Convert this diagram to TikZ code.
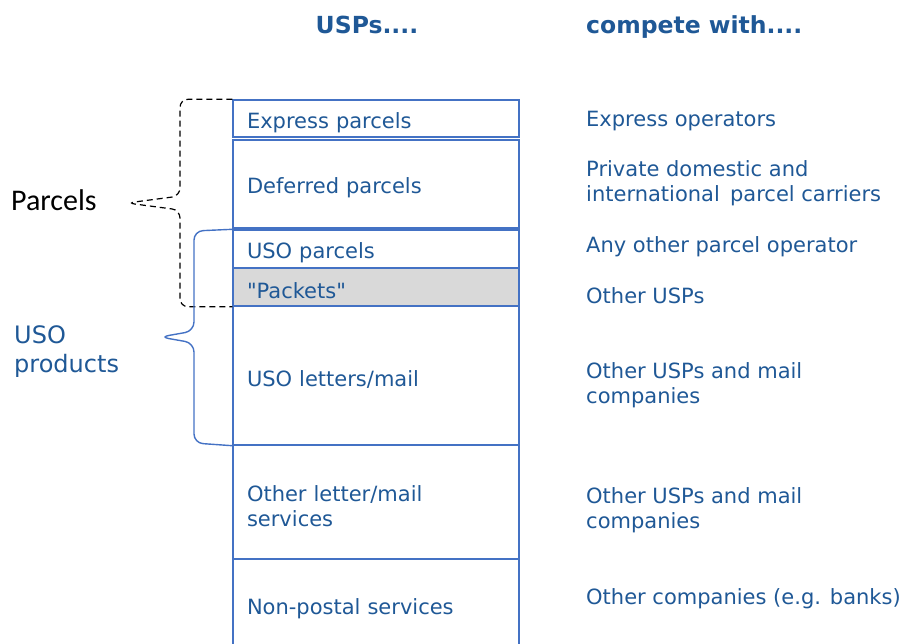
\documentclass[tikz,border=0pt]{standalone}
\usepackage{fontspec}
\setmainfont{DejaVu Sans}
\newfontfamily\carlito{Carlito}
\newfontfamily\plainquote{DejaVu Sans}
\usetikzlibrary{positioning, calc}
\definecolor{textblue}{RGB}{31, 88, 150}
\definecolor{lineblue}{RGB}{68, 114, 196}
\definecolor{packgrey}{RGB}{217, 217, 217}

\tikzset{
  box/.style={draw=lineblue, line width=1.4pt, minimum width=286pt, text width=258pt, align=left, inner xsep=14pt, inner ysep=0pt, text=textblue, font=\fontsize{21}{25}\selectfont, execute at begin node={\rule{0pt}{24pt}}},
  rival/.style={anchor=west, align=left, text=textblue, inner sep=0pt, font=\fontsize{21}{25}\selectfont},
  head/.style={text=textblue, inner sep=0pt, font=\fontsize{23.5}{27}\selectfont\bfseries}
}

\begin{document}
\begin{tikzpicture}[x=1pt, y=-1pt]
  \useasboundingbox (0,0) rectangle (901,643);

  \node[head] (usps) at (367,25) {USPs....};
  \node[head, anchor=west] (compete) at (586,27) {compete with....};

  \node[box, minimum height=37pt] (express) at (376,118.5) {Express parcels};
  \node[box, minimum height=88pt] (deferred) at (376,184) {Deferred parcels};
  \node[box, minimum height=38pt] (usoparcels) at (376,249) {USO parcels};
  \node[box, minimum height=38pt, fill=packgrey] (packets) at (376,287) {{\plainquote"}Packets{\plainquote"}};
  \node[box, minimum height=139pt] (usoletters) at (376,375.5) {USO letters/mail};
  \node[box, minimum height=114pt] (otherletters) at (376,502) {Other letter/mail\\services};
  \node[box, minimum height=92pt] (nonpostal) at (376,605) {Non-postal services};

  \node[rival] (r1) at (586,121) {Express operators};
  \node[rival] (r2) at (586,183) {Private domestic and\\international\, parcel carriers};
  \node[rival] (r3) at (586,246.5) {Any other parcel operator};
  \node[rival] (r4) at (586,296) {Other USPs};
  \node[rival] (r5) at (586,385) {Other USPs and mail\\companies};
  \node[rival] (r6) at (586,510) {Other USPs and mail\\companies};
  \node[rival] (r7) at (586,598.5) {Other companies (e.g. banks)};

  \node[anchor=west, inner sep=0pt, font=\carlito\fontsize{30}{32}\selectfont] (parcels) at (11,200) {Parcels};
  \node[anchor=west, align=left, inner sep=0pt, text=textblue, font=\fontsize{24}{29}\selectfont] (usoproducts) at (14,352) {USO\\products};

  \coordinate (ptip) at (127,203);
  \coordinate (utip) at (160,337);

  \draw[dash pattern=on 6pt off 4pt, line width=1.2pt, rounded corners=8pt]
    (express.north west) -| (180,196) -- (ptip) -- (180,210) |- (packets.south west);
  \draw[lineblue, line width=1.4pt, rounded corners=9pt]
    (usoparcels.north west) -- (194,231) -- (194,331) -- (utip) -- (194,343) -- (194,443) -- (usoletters.south west);
\end{tikzpicture}
\end{document}
